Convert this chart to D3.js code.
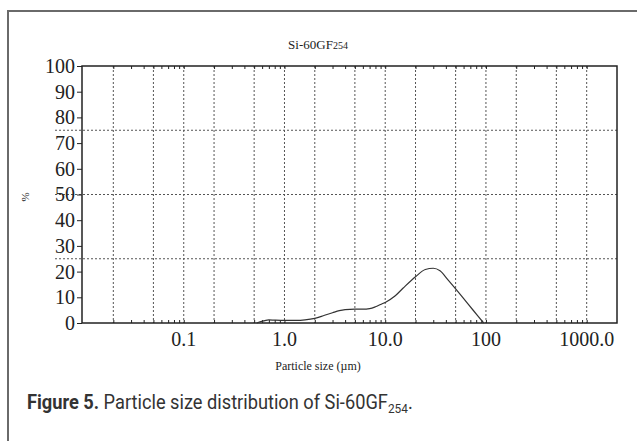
<!DOCTYPE html>
<html>
<head>
<meta charset="utf-8">
<script src="https://cdn.jsdelivr.net/npm/d3@7"></script>
<style>
  body { margin: 0; background: #fff; }
  svg { display: block; }
</style>
</head>
<body>
<svg id="chart" width="637" height="441"></svg>
<script>
// particle size (um) and volume %
var sizes = [0.53, 0.62, 0.7, 0.8, 1.0, 1.3, 1.6, 2.0, 2.5, 3.0, 3.5, 4.0, 5.0, 6.0, 7.0, 8.0, 9.0, 10, 12.5, 15, 20, 25, 30, 35, 42, 52, 66, 83, 95];
var values = [0, 0.8, 1.2, 1.1, 1.0, 1.0, 1.2, 1.8, 3.0, 4.0, 4.8, 5.2, 5.4, 5.4, 5.6, 6.3, 7.2, 8.0, 10.5, 13.5, 18, 20.8, 21.3, 20.3, 16.8, 12.5, 7.5, 2.8, 0];

var xGrid = [0.02, 0.05, 0.1, 0.2, 0.5, 1, 2, 5, 10, 20, 50, 100, 200, 500, 1000];
var xLabels = [0.1, 1, 10, 100, 1000];
var xLabelText = ['0.1', '1.0', '10.0', '100', '1000.0'];
var yTicks = [0, 10, 20, 30, 40, 50, 60, 70, 80, 90, 100];
var yGrid = [25, 50, 75];

function makeChart() {
  var svg = d3.select('#chart');
  var serif = '"Liberation Serif", "Times New Roman", serif';

  // outer frame
  svg.append('rect')
    .attr('x', 8).attr('y', 11)
    .attr('width', 660).attr('height', 460)
    .attr('fill', 'none')
    .attr('stroke', '#6a6a6a')
    .attr('stroke-width', 2);

  var m = {left: 82, right: 617, top: 66, bottom: 323};

  var x = d3.scaleLog().domain([0.01, 2000]).range([m.left + 1, m.right]);
  var y = d3.scaleLinear().domain([0, 100]).range([m.bottom, m.top]);

  // minor tick positions, 1..9 per decade
  var minor = [];
  [0.01, 0.1, 1, 10, 100, 1000].forEach(function(d) {
    for (var i = 1; i <= 9; i++) {
      var v = d * i;
      if (v > 0.01 && v < 2000) minor.push(v);
    }
  });

  var g = svg.append('g');

  // vertical dashed grid
  g.selectAll('.vgrid').data(xGrid).enter().append('line')
    .attr('x1', function(d) { return x(d); })
    .attr('x2', function(d) { return x(d); })
    .attr('y1', m.top).attr('y2', m.bottom)
    .attr('stroke', '#555')
    .attr('stroke-width', 1)
    .attr('stroke-dasharray', '2,2');

  // horizontal dashed grid
  g.selectAll('.hgrid').data(yGrid).enter().append('line')
    .attr('x1', 55).attr('x2', m.right)
    .attr('y1', function(d) { return y(d); })
    .attr('y2', function(d) { return y(d); })
    .attr('stroke', '#555')
    .attr('stroke-width', 1)
    .attr('stroke-dasharray', '2,2');

  // frame of plot
  g.append('rect')
    .attr('x', m.left).attr('y', m.top)
    .attr('width', m.right - m.left).attr('height', m.bottom - m.top)
    .attr('fill', 'none')
    .attr('stroke', '#222')
    .attr('stroke-width', 1.5);

  // bottom axis, ticks pointing inside
  g.append('g')
    .attr('transform', 'translate(0,' + m.bottom + ')')
    .call(d3.axisTop(x).tickValues(minor).tickSize(3).tickFormat(''))
    .call(function(s) { s.select('.domain').remove(); })
    .selectAll('line').attr('stroke', '#222');

  // top axis, ticks pointing inside
  g.append('g')
    .attr('transform', 'translate(0,' + m.top + ')')
    .call(d3.axisBottom(x).tickValues(minor).tickSize(3).tickFormat(''))
    .call(function(s) { s.select('.domain').remove(); })
    .selectAll('line').attr('stroke', '#222');

  // x labels
  g.selectAll('.xl').data(xLabels).enter().append('text')
    .attr('x', function(d) { return x(d); })
    .attr('y', m.bottom + 23)
    .attr('text-anchor', 'middle')
    .attr('font-family', serif)
    .attr('font-size', 20)
    .attr('fill', '#222')
    .text(function(d, i) { return xLabelText[i]; });

  // y axis
  var yAxis = g.append('g')
    .attr('transform', 'translate(' + m.left + ',0)')
    .call(d3.axisLeft(y).tickValues(yTicks).tickSize(5).tickPadding(2));
  yAxis.select('.domain').remove();
  yAxis.selectAll('line').attr('stroke', '#222');
  yAxis.selectAll('text')
    .attr('font-family', serif)
    .attr('font-size', 20)
    .attr('fill', '#222');

  // curve
  var line = d3.line()
    .x(function(d, i) { return x(sizes[i]); })
    .y(function(d) { return y(d); })
    .curve(d3.curveMonotoneX);

  g.append('path')
    .datum(values)
    .attr('fill', 'none')
    .attr('stroke', '#333')
    .attr('stroke-width', 1.2)
    .attr('d', line);

  // title
  var title = svg.append('text')
    .attr('x', 318).attr('y', 49)
    .attr('text-anchor', 'middle')
    .attr('font-family', serif)
    .attr('font-size', 13)
    .attr('fill', '#222');
  title.append('tspan').text('Si-60GF');
  title.append('tspan').attr('font-size', 10).text('254');

  // axis titles
  svg.append('text')
    .attr('x', 318).attr('y', 370)
    .attr('text-anchor', 'middle')
    .attr('font-family', serif)
    .attr('font-size', 12)
    .attr('fill', '#222')
    .text('Particle size (\u00b5m)');

  svg.append('text')
    .attr('transform', 'translate(29,197) rotate(-90)')
    .attr('text-anchor', 'middle')
    .attr('font-family', serif)
    .attr('font-size', 11)
    .attr('fill', '#222')
    .text('%');

  // caption, squeezed to look condensed
  var cap = svg.append('text')
    .attr('x', 0).attr('y', 0)
    .attr('font-family', '"Roboto", "Liberation Sans", sans-serif')
    .attr('font-size', 20)
    .attr('fill', '#333');
  cap.append('tspan').attr('font-weight', 'bold').text('Figure 5.');
  cap.append('tspan').text(' Particle size distribution of Si-60GF');
  cap.append('tspan').attr('font-size', 13).attr('dy', 4).text('254');
  cap.append('tspan').attr('dy', -4).text('.');
  var w = cap.node().getBBox().width;
  cap.attr('transform', 'translate(27,409) scale(' + (386 / w) + ',1)');
}

makeChart();
</script>
</body>
</html>
